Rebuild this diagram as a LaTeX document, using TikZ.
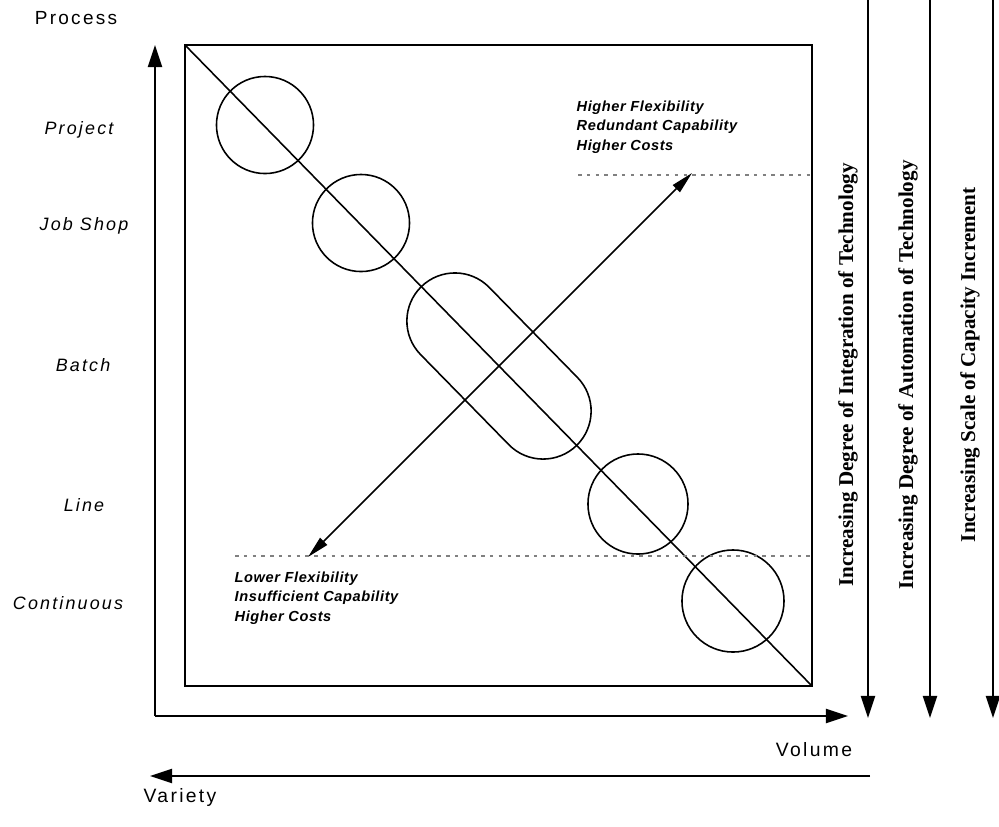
\documentclass[tikz,border=0pt]{standalone}
\usepackage{fontspec}
\setmainfont{Liberation Sans}
\newfontfamily\spacedfont{Liberation Sans}[LetterSpace=12]
\newfontfamily\notefont{Liberation Sans}[LetterSpace=4]
\newfontfamily\bandfont{Liberation Serif}
\usetikzlibrary{arrows.meta}

\begin{document}
\begin{tikzpicture}[x = 0.01cm, y = -0.01cm,
    axis/.style = {-{Triangle[length = 6.3pt, width = 4pt]}, line width = 0.6pt},
    stage/.style = {font = \fontsize{5.1}{6}\spacedfont\itshape, inner sep = 0},
    note/.style = {font = \fontsize{4.15}{5.55}\notefont\bfseries\itshape, align = left, inner sep = 0, anchor = north west},
    band/.style = {font = \fontsize{6}{7}\bandfont\bfseries, rotate = 90, inner sep = 0},
    ring/.style = {draw, circle, line width = 0.45pt, minimum size = 0.97cm, inner sep = 0},
    guide/.style = {gray, line width = 0.3pt, dash pattern = on 1pt off 1.5pt}]
  \useasboundingbox (0, 0) rectangle (999, 826);

  % axes
  \coordinate (origin) at (155, 716);
  \coordinate (ytop) at (155, 45);
  \coordinate (xend) at (848, 716);
  \draw [axis] (origin) -- (ytop);
  \draw [axis] (origin) -- (xend);
  \node [font = \fontsize{5.4}{6}\spacedfont, inner sep = 0] (process) at (76, 18) {Process};
  \node [font = \fontsize{5.5}{6}\spacedfont, inner sep = 0] (volume) at (814, 750) {Volume};
  \coordinate (varstart) at (870, 776);
  \coordinate (varend) at (150, 776);
  \draw [axis] (varstart) -- (varend);
  \node [font = \fontsize{5.5}{6}\spacedfont, inner sep = 0] (variety) at (180, 797) {Variety};

  % matrix box and its diagonal
  \coordinate (boxtl) at (185, 45);
  \coordinate (boxbr) at (812, 686);
  \draw [line width = 0.5pt] (boxtl) rectangle (boxbr);
  \draw [line width = 0.45pt] (boxtl) -- (boxbr);

  % process stages
  \node [stage] (project) at (79, 130) {Project};
  \node [stage] (jobshop) at (84, 226) {Job Shop};
  \node [stage] (batch) at (83, 365) {Batch};
  \node [stage] (line) at (84, 505) {Line};
  \node [stage] (continuous) at (68, 603) {Continuous};

  \node [ring] (projring) at (265, 125) {};
  \node [ring] (jobring) at (361, 223) {};
  \node [draw, rectangle, rounded corners = 0.48cm, line width = 0.45pt, minimum width = 2.22cm, minimum height = 0.96cm, rotate = -45.6] (batchring) at (499, 366) {};
  \node [ring, minimum size = 1cm] (linering) at (638, 504) {};
  \node [ring, minimum size = 1.02cm] (contring) at (733, 601) {};

  % flexibility arrow
  \coordinate (flexlo) at (308, 557);
  \coordinate (flexhi) at (692, 173);
  \draw [{Triangle[length = 6.3pt, width = 2.8pt]}-{Triangle[length = 6.3pt, width = 2.8pt]}, line width = 0.45pt] (flexlo) -- (flexhi);
  \draw [guide] (578, 175) -- (812, 175);
  \draw [guide] (235, 556) -- (812, 556);
  \node [note] (high) at (576, 100) {Higher Flexibility\\Redundant Capability\\Higher Costs};
  \node [note] (low) at (234, 571) {Lower Flexibility\\Insufficient Capability\\Higher Costs};

  % technology trends
  \foreach \x/\name in {868/integ, 930/autom, 993/scale}
    \draw [axis] (\x, 0) -- (\x, 718) coordinate (\name end);
  \node [band] (integtext) at (848, 375) {Increasing Degree of Integration of Technology};
  \node [band] (automtext) at (908, 375) {Increasing Degree of Automation of Technology};
  \node [band] (scaletext) at (970, 365) {Increasing Scale of Capacity Increment};
\end{tikzpicture}
\end{document}
